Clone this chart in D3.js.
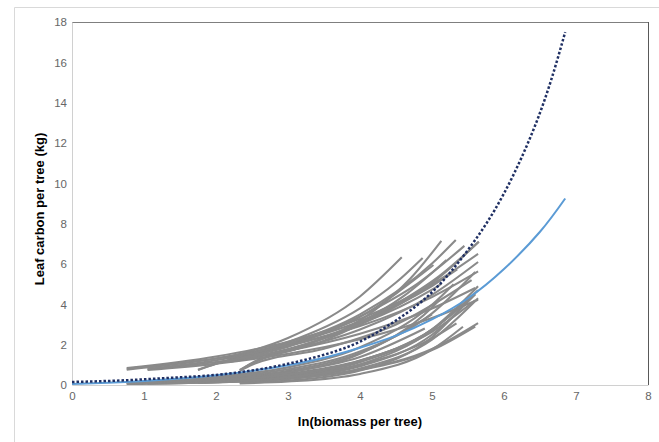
<!DOCTYPE html>
<html lang="en">
<head>
<meta charset="UTF-8">
<title>Leaf carbon</title>
<script src="https://cdn.jsdelivr.net/npm/d3@7/dist/d3.min.js"></script>
<style>
  body { margin: 0; background: #fff; }
  svg { display: block; }
  .tick text { font-family: "Liberation Sans", Arial, sans-serif; font-size: 11.5px; fill: #666; }
  .axis-title { font-family: "Liberation Sans Narrow", "Arial Narrow", "Liberation Sans", sans-serif; font-weight: bold; font-size: 13px; fill: #000; }
  .gray-curve { fill: none; stroke: #8a8a8a; stroke-width: 2.1; }
  .blue-curve { fill: none; stroke: #5b9bd5; stroke-width: 2; }
  .dot-curve { fill: none; stroke: #1f2f63; stroke-width: 2.5; stroke-dasharray: 2.5 2; }
</style>
</head>
<body>
<svg width="659" height="442"></svg>
<script>
var xTicks = [0, 1, 2, 3, 4, 5, 6, 7, 8];
var yTicks = [0, 2, 4, 6, 8, 10, 12, 14, 16, 18];

// blue solid fit
var blueX = [0, 0.5, 1, 1.5, 2, 2.5, 3, 3.5, 4, 4.5, 5, 5.5, 6, 6.5, 6.85];
var blueY = [0.05, 0.11, 0.2, 0.32, 0.48, 0.7, 0.98, 1.35, 1.85, 2.45, 3.25, 4.3, 5.75, 7.6, 9.25];

// dark dotted fit
var dotX = [0, 0.5, 1, 1.5, 2, 2.5, 3, 3.5, 4, 4.5, 5, 5.5, 6, 6.5, 6.85];
var dotY = [0.15, 0.2, 0.28, 0.38, 0.5, 0.72, 1.05, 1.5, 2.15, 3.2, 4.6, 6.7, 9.5, 13.5, 17.5];

// individual gray curves, [x, y] pairs
var grayCurves = [
  [[0.76,0.84],[2,1.41],[3,2.15],[4,3.28],[5,4.99],[5.64,6.5]],
  [[0.76,0.80],[2,1.31],[3,1.96],[4,2.92],[5,4.36],[5.64,5.63]],
  [[1.05,0.78],[2,1.14],[3,1.70],[4,2.54],[5,3.79],[5.6,4.81]],
  [[1.05,0.74],[2,1.06],[3,1.55],[4,2.27],[5,3.32],[5.64,4.23]],
  [[0.76,0.76],[2,1.31],[3,2.04],[4,3.16],[5,4.91],[5.35,5.73]],
  [[1.05,0.80],[2,1.23],[3,1.92],[4,3.02],[5,4.73],[5.13,5.02]],
  [[2.15,1.36],[3,2.33],[4,4.39],[4.58,6.33]],
  [[2.15,1.30],[3,2.13],[4,3.8],[4.5,5.08],[4.87,6.3]],
  [[2.2,1.25],[3,1.95],[4,3.38],[5.02,5.95]],
  [[2.2,1.32],[3,2.04],[4,3.5],[5,6.02],[5.33,7.19]],
  [[2.25,1.2],[3,1.78],[4,3.0],[5,5.05],[5.65,7.1]],
  [[2.2,1.15],[3,1.7],[4,2.75],[5,4.47],[5.64,6.1]],
  [[2.33,0.72],[2.5,1.1],[3.2,1.9],[4.2,3.7],[4.7,5.28],[5.13,7.15]],
  [[2.33,0.75],[2.55,1.15],[3.5,2.2],[4.5,4.0],[5.1,5.4],[5.65,7.1]],
  [[1.75,0.74],[2.0,1.05],[3,1.9],[4,3.4],[4.8,5.03],[5.45,6.9]],
  [[1.75,0.76],[2.05,1.1],[3,1.75],[4,3.1],[4.6,4.39],[5.2,6.2]],
  [[2.33,0.7],[2.5,1.0],[3.5,1.8],[4.5,3.0],[5.55,5.2]],
  [[0.76,0.05],[2,0.14],[3,0.33],[4,0.77],[5,1.79],[5.64,3.07]],
  [[0.76,0.07],[2,0.195],[3,0.44],[4,1.01],[5,2.31],[5.34,3.06]],
  [[1.05,0.06],[2,0.135],[3,0.32],[4,0.74],[5,1.73],[5.6,2.9]],
  [[0.76,0.1],[2,0.26],[3,0.56],[4,1.22],[5,2.64],[5.6,4.2]],
  [[1.05,0.1],[2,0.22],[3,0.51],[4,1.19],[5,2.75],[5.64,4.7]],
  [[1.75,0.1],[2,0.128],[3,0.344],[4,0.925],[5,2.49],[5.6,4.5]],
  [[1.75,0.15],[2,0.19],[3,0.46],[4,1.13],[5,2.76],[5.64,4.9]],
  [[2.33,0.1],[3,0.22],[4,0.72],[5,2.37],[5.4,3.8]],
  [[2.33,0.15],[3,0.3],[4,0.82],[5,2.25],[5.64,4.3]],
  [[2.33,0.2],[3,0.385],[4,1.02],[5,2.72],[5.2,3.3]],
  [[0.76,0.12],[2,0.32],[3,0.71],[4,1.58],[5,3.5]],
  [[1.05,0.14],[2,0.29],[3,0.64],[4,1.39],[4.9,2.8]],
  [[1.75,0.2],[2,0.25],[3,0.62],[4,1.55],[5,3.84],[5.1,4.2]],
  [[2.33,0.3],[3,0.52],[4,1.2],[5,2.74],[5.6,4.5]],
  [[2.33,0.08],[3,0.17],[4,0.55],[5,1.76],[5.43,2.89]],
  [[1.05,0.2],[2,0.41],[3,0.875],[4,1.87],[5,3.98],[5.3,5.0]],
  [[1.75,0.3],[2,0.36],[3,0.78],[4,1.66],[5,3.55],[5.6,5.6]]
];

var svg = d3.select('svg'),
    plotLeft = 72, plotRight = 648, plotTop = 22, plotBottom = 385;

var x = d3.scaleLinear().domain([0, 8]).range([plotLeft, plotRight]),
    y = d3.scaleLinear().domain([0, 18]).range([plotBottom, plotTop]);

// outer chart frame
svg.append('line').attr('x1', 14.5).attr('y1', 7.5).attr('x2', 659).attr('y2', 7.5).attr('stroke', '#d9d9d9');
svg.append('line').attr('x1', 14.5).attr('y1', 7.5).attr('x2', 14.5).attr('y2', 442).attr('stroke', '#d9d9d9');

// plot frame: top and right darker
svg.append('line').attr('x1', plotLeft).attr('y1', plotTop + 0.5).attr('x2', plotRight + 0.5).attr('y2', plotTop + 0.5).attr('stroke', '#7f7f7f');
svg.append('line').attr('x1', plotRight + 0.5).attr('y1', plotTop).attr('x2', plotRight + 0.5).attr('y2', plotBottom).attr('stroke', '#595959');

var yAxis = svg.append('g')
    .attr('transform', 'translate(' + plotLeft + ',0)')
    .call(d3.axisLeft(y).tickValues(yTicks).tickSize(0).tickPadding(5));
yAxis.select('.domain').attr('stroke', '#d0d0d0');

var xAxis = svg.append('g')
    .attr('transform', 'translate(0,' + plotBottom + ')')
    .call(d3.axisBottom(x).tickValues(xTicks).tickSize(0).tickPadding(7));
xAxis.select('.domain').attr('stroke', '#d0d0d0');

var line = d3.line()
    .x(function(d) { return x(d[0]); })
    .y(function(d) { return y(d[1]); })
    .curve(d3.curveMonotoneX);

var smooth = d3.line()
    .x(function(d) { return x(d[0]); })
    .y(function(d) { return y(d[1]); })
    .curve(d3.curveNatural);

svg.append('g').selectAll('path')
    .data(grayCurves)
    .enter().append('path')
    .classed('gray-curve', true)
    .attr('d', line);

svg.append('path')
    .classed('blue-curve', true)
    .attr('d', smooth(blueX.map(function(v, i) { return [v, blueY[i]]; })));

svg.append('path')
    .classed('dot-curve', true)
    .attr('d', smooth(dotX.map(function(v, i) { return [v, dotY[i]]; })));

svg.append('text')
    .classed('axis-title', true)
    .attr('x', (plotLeft + plotRight) / 2)
    .attr('y', 426)
    .attr('text-anchor', 'middle')
    .text('ln(biomass per tree)');

svg.append('text')
    .classed('axis-title', true)
    .attr('transform', 'translate(44,' + 209 + ') rotate(-90)')
    .attr('text-anchor', 'middle')
    .text('Leaf carbon per tree (kg)');
</script>
</body>
</html>
